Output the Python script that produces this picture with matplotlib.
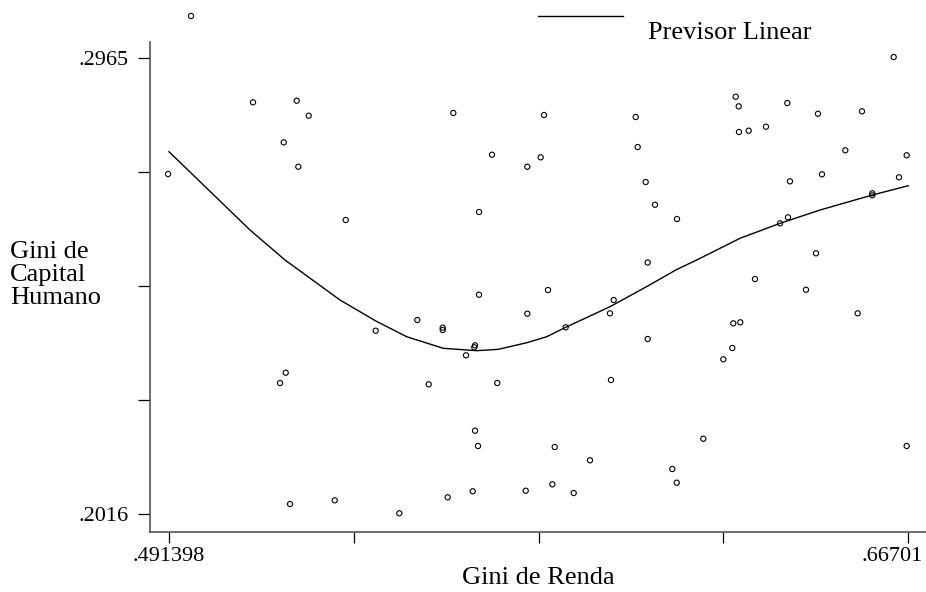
import matplotlib
matplotlib.use("Agg")
import matplotlib.pyplot as plt
from matplotlib.lines import Line2D
from matplotlib.transforms import ScaledTranslation
import numpy as np

plt.rcParams['font.family'] = ['Liberation Serif', 'DejaVu Serif']

# scatter: Gini de Renda (x) vs Gini de Capital Humano (y)
gini_renda = [
    .49662, .51135, .52173, .52458, .51864, .52211, .49116, .53337, .55893, .56812,
    .57651, .56504, .57969, .58048, .66354, .62601, .62673, .63827, .64556, .65601,
    .60226, .60273, .62680, .62910, .63321, .65205, .66663, .64651, .66480, .63891,
    .60463, .60684, .61207, .65846, .65846, .63843, .63654, .64509, .60511, .56504,
    .57651, .55038, .55641, .55641, .54050, .56409, .56392, .56195, .51912, .51777,
    .55309, .56938, .56409, .56480, .52014, .53076, .54610, .55760, .56354, .57613,
    .63060, .64271, .65499, .58143, .59703, .59615, .58563, .60511, .62544, .62710,
    .62520, .62307, .59639, .66663, .61832, .58302, .59140, .61095, .61200, .58245,
    .58753,
]
gini_capital = [
    .30531, .28735, .28768, .28456, .27902, .27394, .27242, .26285, .28512, .27644,
    .27394, .26452, .27590, .28470, .29677, .28851, .28651, .28720, .28497, .28547,
    .28429, .27804, .28116, .28144, .28227, .27736, .27632, .27236, .27174, .27090,
    .27076, .26603, .26306, .26841, .26799, .26341, .26216, .25592, .25401, .24730,
    .24335, .24204, .24044, .23996, .23981, .23677, .23636, .23469, .23107, .22893,
    .22866, .22893, .21900, .21582, .20374, .20451, .20181, .20514, .20639, .20651,
    .25057, .24834, .24343, .24828, .24620, .24343, .24052, .23808, .24135, .24156,
    .23621, .23386, .22955, .21582, .21733, .21561, .21284, .21103, .20818, .20784,
    .20603,
]

# fitted values ("Previsor Linear"), sorted by x
fit_x = [.491398, .51064, .51895, .53202, .54053, .54786, .55655, .56449, .56962, .57637,
         .58112, .58563, .59615, .60511, .61200, .61675, .62703, .63654, .64604, .65846, .66701]
fit_y = [.27706, .26077, .25453, .24620, .24183, .23856, .23615, .23565, .23594, .23731,
         .23856, .24052, .24481, .24911, .25255, .25453, .25904, .26216, .26493, .26805, .26999]

xticks = np.linspace(.491398, .66701, 5)
xtick_labels = ['.491398', '', '', '', '.66701']
yticks = np.linspace(.2016, .2965, 5)
ytick_labels = ['.2016', '', '', '', '.2965']

W, H = 926, 592
fig = plt.figure(figsize=(W / 100, H / 100), dpi=100)
ax = fig.add_axes([150 / W, (H - 532) / H, 776 / W, 532 / H])

ax.scatter(gini_renda, gini_capital, s=14, facecolors='none', edgecolors='black',
           linewidths=0.8, clip_on=False, zorder=3)
ax.plot(fit_x, fit_y, color='black', lw=1.0, zorder=2)

ax.set_xlim(0.48688, 0.67122)
ax.set_ylim(0.19792, 0.30864)

for s in ['top', 'right']:
    ax.spines[s].set_visible(False)
for s in ['left', 'bottom']:
    ax.spines[s].set_color('#555555')
    ax.spines[s].set_linewidth(1.2)
ax.spines['left'].set_bounds(0.19792, 0.29996)

ax.set_xticks(xticks)
ax.set_xticklabels(xtick_labels)
ax.set_yticks(yticks)
ax.set_yticklabels(ytick_labels)
ax.tick_params(axis='x', length=8, width=0.9, color='black', pad=2.5, labelsize=16)
ax.tick_params(axis='y', length=8.5, width=0.9, color='black', pad=7, labelsize=16)

# last x label pulled left so it stays inside the picture
last = ax.get_xticklabels()[-1]
last.set_transform(last.get_transform() + ScaledTranslation(-0.16, 0, fig.dpi_scale_trans))

# axis titles
fig.text(538 / W, 1 - 578 / H, 'Gini de Renda', ha='center', va='center', fontsize=19)
fig.text(10 / W, 1 - 275 / H, 'Gini de\nCapital\nHumano', ha='left', va='center',
         fontsize=19, linespacing=1.05)

# legend
fig.add_artist(Line2D([538 / W, 623 / W], [1 - 15.7 / H, 1 - 15.7 / H],
                      transform=fig.transFigure, color='black', lw=1.0))
fig.text(648 / W, 1 - 39.3 / H, 'Previsor Linear', ha='left', va='baseline', fontsize=19)

fig.savefig('out.png', dpi=100)
